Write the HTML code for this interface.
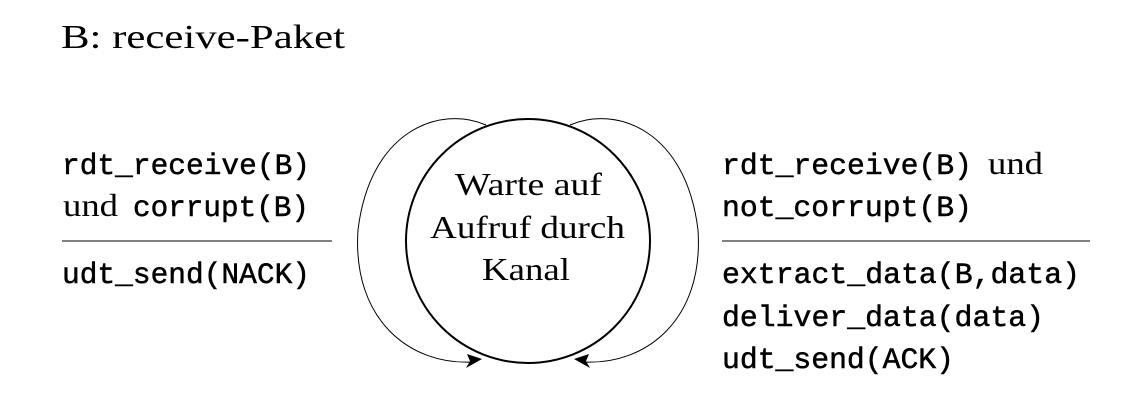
<!DOCTYPE html>
<html><head><meta charset="utf-8"><style>
html,body{margin:0;padding:0;background:#fff;}
svg{display:block}
.s{font-family:"Liberation Serif",serif;font-size:32px;fill:#000}
.m{font-family:"Liberation Mono",monospace;font-size:29.5px;fill:#000;stroke:#000;stroke-width:0.5}
</style></head><body>
<svg width="1136" height="412" viewBox="0 0 1136 412" xmlns="http://www.w3.org/2000/svg">
<text x="61" y="48" class="s" style="font-size:34px" textLength="284" lengthAdjust="spacingAndGlyphs">B: receive-Paket</text>
<circle cx="528" cy="241" r="122" fill="none" stroke="#000" stroke-width="2"/>
<path d="M486,125 C440,105 370,130 358,230 C352,320 410,365 472,362" fill="none" stroke="#000" stroke-width="1"/>
<path d="M570,125 C616,105 686,130 698,230 C704,320 646,365 584,362" fill="none" stroke="#000" stroke-width="1"/>
<path d="M482,359 L466,368 L470,361 L467,354 Z" fill="#000"/>
<path d="M574,359 L590,368 L586,361 L589,354 Z" fill="#000"/>
<text x="455" y="195" class="s" textLength="147" lengthAdjust="spacingAndGlyphs">Warte auf</text>
<text x="430" y="238" class="s" textLength="195" lengthAdjust="spacingAndGlyphs">Aufruf durch</text>
<text x="482" y="280" class="s" textLength="88" lengthAdjust="spacingAndGlyphs">Kanal</text>
<text x="62" y="174" class="m" textLength="248" lengthAdjust="spacingAndGlyphs">rdt_receive(B)</text>
<text x="63" y="216" class="s" textLength="55" lengthAdjust="spacingAndGlyphs">und</text>
<text x="133" y="216" class="m" textLength="176" lengthAdjust="spacingAndGlyphs">corrupt(B)</text>
<line x1="62" y1="241" x2="332" y2="241" stroke="#000" stroke-width="1"/>
<text x="62" y="283" class="m" textLength="248" lengthAdjust="spacingAndGlyphs">udt_send(NACK)</text>
<text x="722" y="174" class="m" textLength="250" lengthAdjust="spacingAndGlyphs">rdt_receive(B)</text>
<text x="988" y="174" class="s" textLength="55" lengthAdjust="spacingAndGlyphs">und</text>
<text x="722" y="216" class="m" textLength="250" lengthAdjust="spacingAndGlyphs">not_corrupt(B)</text>
<line x1="722" y1="241" x2="1090" y2="241" stroke="#000" stroke-width="1"/>
<text x="722" y="283" class="m" textLength="358" lengthAdjust="spacingAndGlyphs">extract_data(B,data)</text>
<text x="722" y="326" class="m" textLength="322" lengthAdjust="spacingAndGlyphs">deliver_data(data)</text>
<text x="722" y="368" class="m" textLength="232" lengthAdjust="spacingAndGlyphs">udt_send(ACK)</text>
</svg>
</body></html>
